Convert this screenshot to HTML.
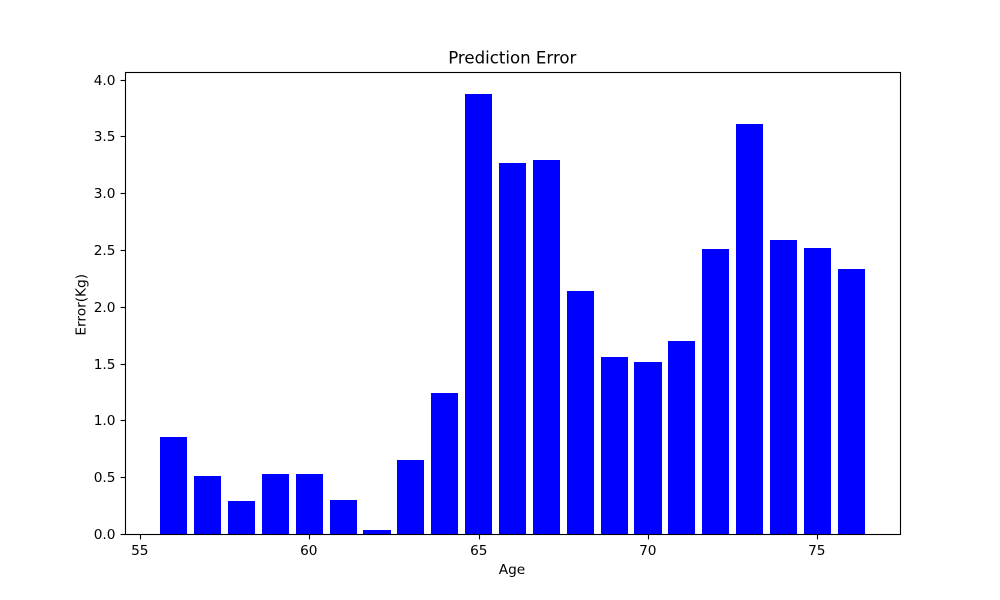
<!DOCTYPE html>
<html>
<head>
<meta charset="utf-8">
<title>Prediction Error</title>
<style>
html,body{margin:0;padding:0;background:#fff;}
svg{display:block;font-family:"DejaVu Sans","Liberation Sans",sans-serif;}
</style>
</head>
<body>
<svg id="chart" width="1000" height="600" viewBox="0 0 1000 600" xmlns="http://www.w3.org/2000/svg">
  <rect x="0" y="0" width="1000" height="600" fill="#ffffff"/>
  <text x="512.3" y="63.5" font-size="16.6" text-anchor="middle" fill="#000">Prediction Error</text>
  <g id="bars"></g>
  <g id="x-axis"></g>
  <g id="y-axis"></g>
  <rect x="125.5" y="72.5" width="775" height="462" fill="none" stroke="#000" stroke-width="1.11"/>
  <text x="512" y="574" font-size="13.7" text-anchor="middle" fill="#000">Age</text>
  <text transform="translate(85.3,304.8) rotate(-90)" font-size="13.7" text-anchor="middle" fill="#000">Error(Kg)</text>
</svg>
<script>
const ages = [56,57,58,59,60,61,62,63,64,65,66,67,68,69,70,71,72,73,74,75,76];
const errors = [0.853,0.51,0.29,0.53,0.53,0.30,0.035,0.65,1.24,3.873,3.265,3.29,2.14,1.56,1.51,1.70,2.51,3.61,2.585,2.515,2.33];
const xTickLabels = [55,60,65,70,75];
const yTickLabels = ["0.0","0.5","1.0","1.5","2.0","2.5","3.0","3.5","4.0"];

const NS = "http://www.w3.org/2000/svg";
const plot = {left:125, right:900, top:72, bottom:534};
const barWidth = 0.8;
const xMin = Math.min(...ages) - barWidth/2;
const xMax = Math.max(...ages) + barWidth/2;
const xPad = (xMax - xMin) * 0.05;
const yMaxValue = Math.max(...errors) * 1.05;

function xScale(v){
  return plot.left + (v - (xMin - xPad)) / ((xMax + xPad) - (xMin - xPad)) * (plot.right - plot.left);
}
function yScale(v){
  return plot.bottom - v / yMaxValue * (plot.bottom - plot.top);
}
function make(tag, attrs, text){
  const el = document.createElementNS(NS, tag);
  for (const k in attrs) el.setAttribute(k, attrs[k]);
  if (text !== undefined) el.textContent = text;
  return el;
}

const barsGroup = document.getElementById("bars");
ages.forEach(function(age, i){
  const x0 = Math.round(xScale(age - barWidth/2));
  const x1 = Math.round(xScale(age + barWidth/2));
  const y0 = Math.round(yScale(errors[i]));
  const bar = make("rect", {x:x0, y:y0, width:x1-x0, height:plot.bottom+0.5-y0, fill:"#0000ff"});
  
  
  barsGroup.appendChild(bar);
});

const xAxis = document.getElementById("x-axis");
xTickLabels.forEach(function(v){
  const px = Math.round(xScale(v)) + 0.5;
  const tick = make("line", {x1:px, x2:px, y1:plot.bottom+0.5, y2:plot.bottom+5.4, stroke:"#000", "stroke-width":1.11});
  
  
  xAxis.appendChild(tick);
  const label = make("text", {x:px-0.7, y:555, "font-size":13.7, "text-anchor":"middle", fill:"#000"}, String(v));
  
  
  xAxis.appendChild(label);
});

const yAxis = document.getElementById("y-axis");
yTickLabels.forEach(function(s){
  const v = parseFloat(s);
  const py = Math.round(yScale(v)) + 0.5;
  const tick = make("line", {x1:plot.left+0.5, x2:plot.left-4.4, y1:py, y2:py, stroke:"#000", "stroke-width":1.11});
  
  
  yAxis.appendChild(tick);
  const label = make("text", {x:plot.left-9.5, y:py+4.6, "font-size":13.7, "text-anchor":"end", fill:"#000"}, s);
  
  
  yAxis.appendChild(label);
});
</script>
</body>
</html>
